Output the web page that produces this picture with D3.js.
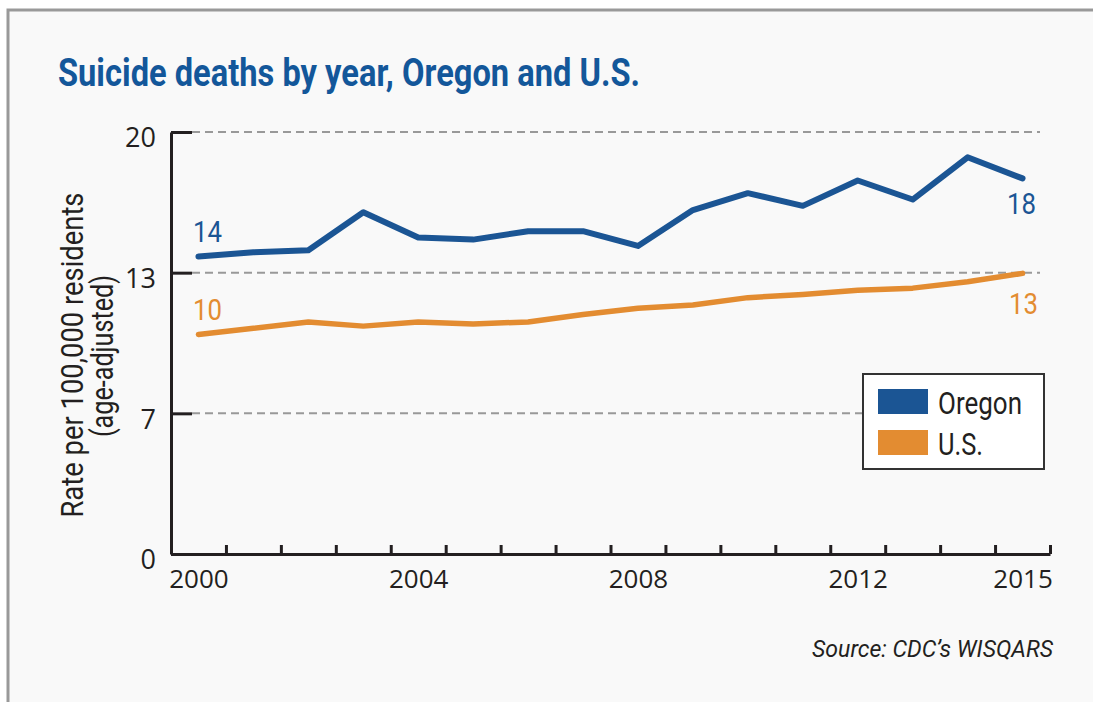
<!DOCTYPE html>
<html>
<head>
<meta charset="utf-8">
<script src="https://cdn.jsdelivr.net/npm/d3@7"></script>
<style>
  html, body { margin: 0; padding: 0; background: #fff; }
  svg { display: block; }
</style>
</head>
<body>
<svg></svg>
<script>
const width = 1093
const height = 702

const years = d3.range(2000, 2016)
const oregon = [14.1, 14.3, 14.4, 16.2, 15.0, 14.9, 15.3, 15.3, 14.6, 16.3, 17.1, 16.5, 17.7, 16.8, 18.8, 17.8]
const us = [10.4, 10.7, 11.0, 10.8, 11.0, 10.9, 11.0, 11.35, 11.65, 11.8, 12.15, 12.3, 12.5, 12.6, 12.9, 13.3]
const labelYears = [2000, 2004, 2008, 2012, 2015]
const yTicks = [0, 20 / 3, 40 / 3, 20]
const blue = '#1b5594'
const orange = '#e38c31'

const svg = d3.select('svg').attr('width', width).attr('height', height)

// frame
svg.append('rect')
  .attr('x', 8).attr('y', 10)
  .attr('width', width + 20).attr('height', height + 20)
  .attr('fill', '#f9f9f9')
  .attr('stroke', '#999').attr('stroke-width', 3)

const x = d3.scaleLinear().domain([1999.5, 2015.5]).range([171, 1050])
const y = d3.scaleLinear().domain([0, 20]).range([554, 132])

svg.append('text')
  .attr('x', 58).attr('y', 86)
  .attr('fill', '#13579a')
  .attr('font-family', 'Roboto, "Liberation Sans", sans-serif')
  .attr('font-weight', 'bold')
  .attr('font-size', 38)
  .attr('textLength', 582).attr('lengthAdjust', 'spacingAndGlyphs')
  .text('Suicide deaths by year, Oregon and U.S.')

// gridlines
svg.append('g').selectAll('line')
  .data(yTicks.filter(d => d > 0))
  .join('line')
  .attr('x1', 192).attr('x2', 1040)
  .attr('y1', d => y(d)).attr('y2', d => y(d))
  .attr('stroke', '#999').attr('stroke-width', 2)
  .attr('stroke-dasharray', '8,5')

// y axis
const yAxis = svg.append('g')
  .attr('transform', 'translate(171,0)')
  .call(d3.axisLeft(y).tickValues(yTicks).tickFormat(d3.format('.0f'))
    .tickSizeInner(-21).tickSizeOuter(0).tickPadding(15))
yAxis.select('.domain').attr('stroke', '#231f20').attr('stroke-width', 3)
yAxis.selectAll('.tick line').attr('stroke', '#231f20').attr('stroke-width', 3)
yAxis.selectAll('.tick text')
  .attr('fill', '#231f20')
  .attr('font-family', '"Open Sans", sans-serif')
  .attr('font-size', 27)
  .attr('dy', '0.55em')

// x axis ticks at year boundaries
const xTicks = svg.append('g')
  .attr('transform', 'translate(0,554)')
  .call(d3.axisBottom(x).tickValues(years.map(d => d + 0.5)).tickFormat('')
    .tickSizeInner(-9).tickSizeOuter(0))
xTicks.select('.domain').attr('stroke', '#231f20').attr('stroke-width', 3)
xTicks.selectAll('.tick line').attr('stroke', '#231f20').attr('stroke-width', 3)

const xLabels = svg.append('g')
  .attr('transform', 'translate(0,554)')
  .call(d3.axisBottom(x).tickValues(labelYears).tickFormat(d3.format('d'))
    .tickSize(0).tickPadding(18))
xLabels.select('.domain').remove()
xLabels.selectAll('.tick text')
  .attr('fill', '#231f20')
  .attr('font-family', '"Open Sans", sans-serif')
  .attr('font-size', 26)
  .attr('dy', '0.6em')

// y axis title
const yTitle = svg.append('g')
  .attr('font-family', 'Roboto, "Liberation Sans", sans-serif')
  .attr('fill', '#231f20')
  .attr('font-size', 31)
  .attr('text-anchor', 'middle')
yTitle.append('text')
  .attr('transform', 'translate(83,355) rotate(-90)')
  .attr('textLength', 325).attr('lengthAdjust', 'spacingAndGlyphs')
  .text('Rate per 100,000 residents')
yTitle.append('text')
  .attr('transform', 'translate(113,356) rotate(-90)')
  .attr('textLength', 162).attr('lengthAdjust', 'spacingAndGlyphs')
  .text('(age-adjusted)')

// lines
const line = d3.line().x((d, i) => x(years[i])).y(d => y(d))
svg.append('path').datum(us)
  .attr('d', line).attr('fill', 'none')
  .attr('stroke', orange).attr('stroke-width', 5.5)
  .attr('stroke-linecap', 'round').attr('stroke-linejoin', 'round')
svg.append('path').datum(oregon)
  .attr('d', line).attr('fill', 'none')
  .attr('stroke', blue).attr('stroke-width', 6)
  .attr('stroke-linecap', 'round').attr('stroke-linejoin', 'round')

// end labels
const endLabels = [
  { v: Math.round(oregon[0]), x: x(2000) + 9, y: y(oregon[0]) - 14, c: blue },
  { v: Math.round(us[0]), x: x(2000) + 9, y: y(us[0]) - 15, c: orange },
  { v: Math.round(oregon[15]), x: x(2015) - 1, y: y(oregon[15]) + 36, c: blue },
  { v: Math.round(us[15]), x: x(2015) + 1, y: y(us[15]) + 41, c: orange }
]
svg.append('g').selectAll('text')
  .data(endLabels)
  .join('text')
  .attr('x', d => d.x).attr('y', d => d.y)
  .attr('fill', d => d.c)
  .attr('text-anchor', 'middle')
  .attr('font-family', 'Roboto, "Liberation Sans", sans-serif')
  .attr('font-size', 29)
  .attr('textLength', 29).attr('lengthAdjust', 'spacingAndGlyphs')
  .text(d => d.v)

// legend
const legend = svg.append('g')
legend.append('rect')
  .attr('x', 863).attr('y', 374).attr('width', 181).attr('height', 95)
  .attr('fill', '#fff').attr('stroke', '#333').attr('stroke-width', 2)
const legendItems = [
  { name: 'Oregon', color: blue, w: 84 },
  { name: 'U.S.', color: orange, w: 45 }
]
const li = legend.selectAll('.item')
  .data(legendItems)
  .join('g')
  .attr('transform', (d, i) => `translate(878,${389 + i * 41})`)
li.append('rect')
  .attr('width', 50).attr('height', 25)
  .attr('fill', d => d.color)
li.append('text')
  .attr('x', 60).attr('y', 25)
  .attr('fill', '#231f20')
  .attr('font-family', 'Roboto, "Liberation Sans", sans-serif')
  .attr('font-size', 31)
  .attr('textLength', d => d.w).attr('lengthAdjust', 'spacingAndGlyphs')
  .text(d => d.name)

// source
svg.append('text')
  .attr('x', 1053).attr('y', 657)
  .attr('text-anchor', 'end')
  .attr('fill', '#231f20')
  .attr('font-family', 'Roboto, "Liberation Sans", sans-serif')
  .attr('font-style', 'italic')
  .attr('font-size', 23)
  .attr('textLength', 241).attr('lengthAdjust', 'spacingAndGlyphs')
  .text('Source: CDC\u2019s WISQARS')
</script>
</body>
</html>
